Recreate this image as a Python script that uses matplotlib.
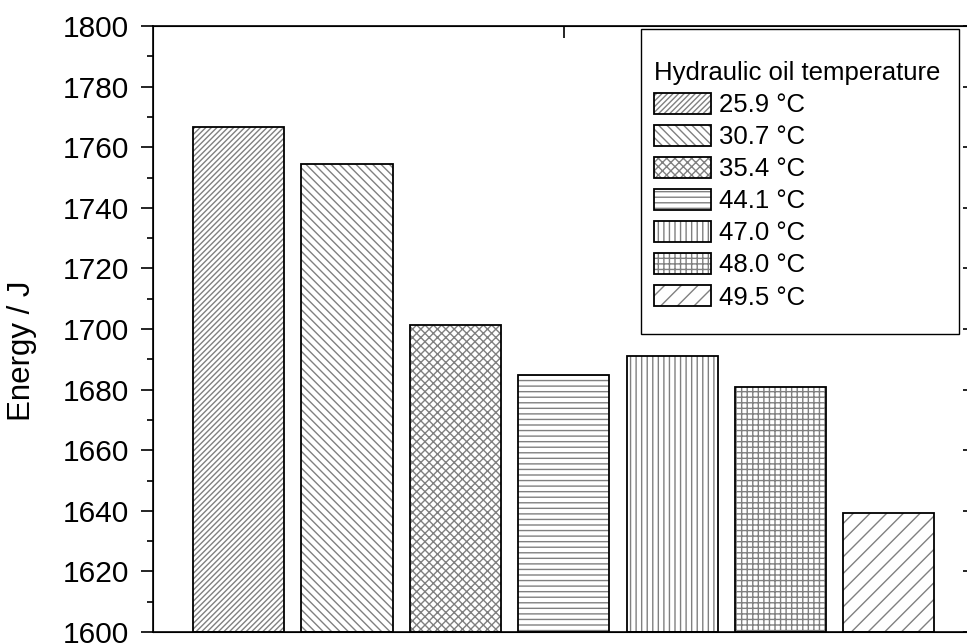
import matplotlib
matplotlib.use("Agg")
import matplotlib.pyplot as plt
from matplotlib.patches import Patch, Rectangle
from matplotlib.legend_handler import HandlerTuple
from matplotlib.ticker import MultipleLocator

plt.rcParams['font.family'] = ['Liberation Sans', 'DejaVu Sans']
plt.rcParams['hatch.linewidth'] = 1.0

labels = ["25.9 °C", "30.7 °C", "35.4 °C", "44.1 °C", "47.0 °C", "48.0 °C", "49.5 °C"]
energy = [1766.7, 1754.5, 1701.3, 1684.8, 1691.1, 1680.9, 1639.3]
hatches = ["//////", "\\\\\\\\", "xxxx", "---", "|||", "+++", "//"]
positions = list(range(1, len(energy) + 1))

W, H = 967, 644
fig = plt.figure(figsize=(W / 100, H / 100), dpi=100)
left, right = 153 / W, 974.5 / W
bottom, top = (H - 632) / H, (H - 26) / H
ax = fig.add_axes([left, bottom, right - left, top - bottom])

hatch_col = "#808080"
handles = []
for x, v, h, lab in zip(positions, energy, hatches, labels):
    ax.bar(x, v - 1600, bottom=1600, width=0.84, color="white",
           edgecolor=hatch_col, hatch=h, linewidth=0, zorder=2)
    ax.bar(x, v - 1600, bottom=1600, width=0.84, fill=False,
           edgecolor="black", linewidth=1.3, zorder=3)
    p1 = Patch(facecolor="white", edgecolor=hatch_col, hatch=h, linewidth=0)
    p2 = Patch(fill=False, edgecolor="black", linewidth=1.3)
    handles.append((p1, p2))

ax.set_ylim(1600, 1800)
ax.set_xlim(0.21, 7.79)
ax.yaxis.set_major_locator(MultipleLocator(20))
ax.yaxis.set_minor_locator(MultipleLocator(10))
ax.xaxis.set_major_locator(MultipleLocator(4))
ax.tick_params(axis='y', which='major', direction='out', length=8.6, width=1.2,
               labelsize=21.5, pad=8.5)
ax.tick_params(axis='y', which='minor', direction='out', length=4.3, width=1.2)
ax.tick_params(axis='y', which='both', right=False)
ax.tick_params(axis='x', which='major', direction='in', length=8.6, width=1.2,
               top=True, bottom=True, labelbottom=False)
for s in ax.spines.values():
    s.set_linewidth(1.2)

# right side inward major ticks
ax2 = ax.twinx()
ax2.set_ylim(ax.get_ylim())
ax2.yaxis.set_major_locator(MultipleLocator(20))
ax2.tick_params(axis='y', direction='in', length=8.6, width=1.2, labelright=False)
ax2.spines['right'].set_linewidth(1.2)

ax.set_ylabel("Energy / J", fontsize=22.5)
ax.yaxis.set_label_coords((37 - 153) / (974.5 - 153), (632 - 351) / 606)

# legend frame drawn manually
frame = Rectangle((641 / W, 1 - 334 / H), 318 / W, 305 / H, transform=fig.transFigure,
                  facecolor="white", edgecolor="black", linewidth=1.0, zorder=4,
                  clip_on=False)
ax2.add_artist(frame)

leg = ax2.legend(handles, labels, handler_map={tuple: HandlerTuple(ndivide=1)},
                 title="Hydraulic oil temperature", title_fontsize=18.5,
                 fontsize=18.5, loc="upper left",
                 bbox_to_anchor=(654 / W, 1 - 61 / H), bbox_transform=fig.transFigure,
                 frameon=False, handlelength=2.2, handleheight=0.88,
                 handletextpad=0.33, labelspacing=0.3, borderpad=0,
                 borderaxespad=0)
leg._legend_box.align = "left"
leg.set_zorder(6)

fig.savefig("out.png", dpi=100)
